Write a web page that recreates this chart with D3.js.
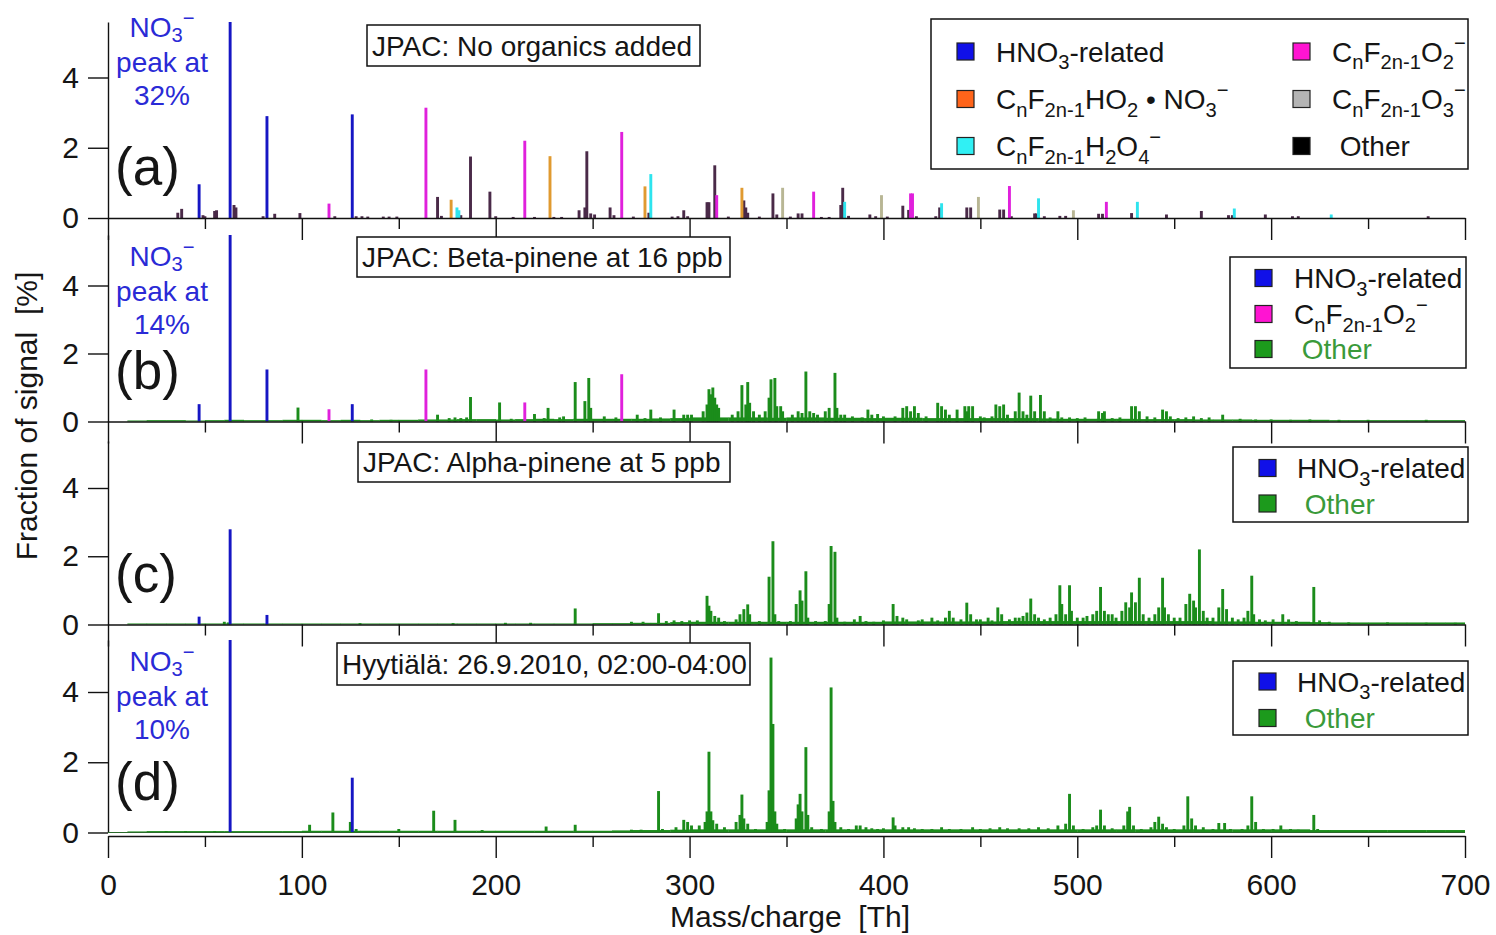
<!DOCTYPE html>
<html><head><meta charset="utf-8">
<script src="https://cdn.jsdelivr.net/npm/d3@7"></script>
<style>
body{margin:0;background:#fff}
svg text{font-family:"Liberation Sans",Arial,Helvetica,sans-serif;fill:#151515;white-space:pre}
</style></head><body>
<svg id="chart" width="1496" height="935"></svg>
<script>
// ---- Spectra: [mass (Th), fraction of signal (%)] ----
// (a) JPAC, no organics added
const hno3A   = [[47,0.96],[63,32],[82,2.9],[126,2.95]];
const fo2A    = [[114,0.41],[164,3.14],[215,2.2],[265,2.45],[314,0.65],[364,0.75],[414,0.7],[415,0.7],[465,0.91],[515,0.46]];
const fho2no3A= [[177,0.52],[228,1.76],[277,0.9],[327,0.86]];
const fh2o4A  = [[180,0.3],[181,0.22],[280,1.25],[380,0.46],[430,0.42],[480,0.56],[531,0.46],[581,0.27],[631,0.1]];
const fo3A    = [[348,0.86],[399,0.65],[449,0.6],[498,0.22]];
const otherA  = [[36,0.15],[38,0.26],[49,0.08],[50,0.05],[55,0.2],[56,0.22],[65,0.37],[66,0.3],[80,0.05],[86,0.12],[99,0.14],
  [117,0.05],[128,0.05],[131,0.05],[134,0.04],[142,0.04],[145,0.04],[149,0.04],[170,0.6],[172,0.06],[182,0.08],[187,1.75],
  [197,0.75],[200,0.05],[209,0.03],[220,0.03],[230,0.03],[234,0.03],[243,0.22],[246,0.3],[247,1.9],[249,0.13],[251,0.1],
  [259,0.3],[261,0.08],[271,0.04],[279,0.15],[291,0.04],[294,0.05],[297,0.22],[299,0.05],[309,0.45],[310,0.45],[313,1.5],
  [320,0.04],[328,0.5],[329,0.3],[330,0.15],[336,0.04],[343,0.7],[345,0.1],[352,0.04],[356,0.13],[358,0.13],[368,0.03],
  [372,0.03],[378,0.37],[379,0.86],[382,0.06],[393,0.1],[396,0.05],[402,0.04],[410,0.35],[413,0.23],[417,0.05],[427,0.05],
  [429,0.3],[443,0.3],[445,0.3],[460,0.24],[462,0.24],[466,0.05],[478,0.13],[479,0.13],[483,0.05],[491,0.06],[494,0.06],
  [511,0.12],[513,0.12],[528,0.14],[546,0.1],[564,0.2],[578,0.08],[580,0.08],[597,0.1],[611,0.05],[614,0.05],[681,0.05]];

// (b) JPAC, beta-pinene at 16 ppb
const hno3B  = [[47,0.51],[63,14],[82,1.53],[126,0.51]];
const fo2B   = [[114,0.36],[164,1.53],[215,0.56],[265,1.39]];
const otherB = [[98,0.41],[136,0.06],[146,0.05],[170,0.2],[176,0.1],[179,0.12],[182,0.1],[185,0.12],[187,0.72],[202,0.56],
  [208,0.08],[220,0.22],[225,0.1],[227,0.4],[233,0.12],[235,0.15],[241,1.16],[246,0.6],[248,1.28],[249,0.4],[256,0.15],
  [262,0.12],[273,0.2],[277,0.1],[280,0.35],[285,0.12],[292,0.35],[297,0.2],[299,0.2],[301,0.2],[307,0.3],[309,0.5],
  [310,0.95],[311,0.8],[312,1.0],[313,0.7],[314,0.5],[315,0.4],[322,0.2],[325,0.3],[327,1.07],[329,0.5],[330,1.16],
  [331,0.55],[333,0.3],[336,0.2],[339,0.3],[341,0.7],[342,1.24],[344,1.28],[345,0.45],[347,0.45],[348,0.3],[353,0.2],
  [356,0.3],[358,0.25],[360,1.47],[362,0.3],[364,0.25],[366,0.2],[370,0.3],[372,0.4],[375,1.43],[376,0.4],[378,0.2],
  [380,0.2],[384,0.15],[389,0.12],[392,0.35],[394,0.2],[397,0.22],[400,0.15],[406,0.15],[410,0.4],[412,0.45],[414,0.3],
  [416,0.45],[418,0.25],[422,0.15],[428,0.55],[430,0.45],[432,0.35],[434,0.2],[438,0.35],[442,0.45],[443,0.3],[444,0.45],
  [446,0.45],[450,0.15],[452,0.12],[456,0.15],[458,0.5],[460,0.45],[462,0.5],[464,0.2],[468,0.3],[470,0.85],[472,0.3],
  [474,0.2],[476,0.76],[478,0.3],[481,0.78],[483,0.3],[486,0.12],[490,0.3],[492,0.12],[496,0.12],[500,0.1],[504,0.12],
  [511,0.3],[513,0.25],[514,0.3],[518,0.1],[522,0.12],[528,0.45],[530,0.45],[532,0.3],[536,0.15],[540,0.12],[544,0.35],
  [546,0.3],[548,0.15],[552,0.1],[556,0.12],[560,0.15],[564,0.1],[568,0.12],[575,0.2],[584,0.08],[592,0.06],[600,0.06],
  [610,0.05],[620,0.06],[635,0.05],[650,0.05],[680,0.05]];

// (c) JPAC, alpha-pinene at 5 ppb
const hno3C  = [[47,0.23],[63,2.79],[82,0.28]];
const otherC = [[60,0.08],[62,0.06],[130,0.04],[178,0.04],[205,0.05],[218,0.05],[241,0.47],[270,0.08],[276,0.08],[284,0.33],
  [288,0.1],[292,0.12],[296,0.1],[300,0.12],[304,0.12],[309,0.84],[310,0.55],[311,0.4],[313,0.25],[315,0.2],[318,0.1],
  [324,0.15],[326,0.3],[328,0.45],[330,0.59],[331,0.3],[336,0.1],[341,1.4],[343,2.44],[344,0.3],[346,0.1],[352,0.1],
  [355,0.6],[357,1.0],[358,0.7],[360,1.56],[361,0.2],[365,0.1],[370,0.1],[372,0.6],[373,2.3],[375,2.13],[376,0.2],
  [380,0.08],[385,0.15],[388,0.25],[391,0.1],[395,0.08],[400,0.12],[405,0.6],[407,0.25],[410,0.2],[412,0.15],[418,0.12],
  [420,0.15],[425,0.2],[428,0.12],[432,0.2],[434,0.4],[436,0.2],[440,0.15],[443,0.64],[445,0.3],[448,0.15],[450,0.15],
  [454,0.2],[456,0.12],[459,0.5],[461,0.3],[465,0.15],[468,0.2],[470,0.2],[472,0.25],[474,0.35],[476,0.76],[478,0.3],
  [480,0.2],[483,0.15],[486,0.2],[489,0.3],[491,1.15],[492,0.6],[494,0.3],[496,1.15],[497,0.4],[500,0.2],[503,0.2],
  [505,0.25],[508,0.3],[510,0.4],[512,1.1],[514,0.4],[516,0.3],[518,0.3],[520,0.2],[523,0.4],[525,0.65],[527,0.5],
  [528,0.94],[530,0.65],[532,1.37],[534,0.3],[537,0.2],[540,0.3],[542,0.5],[544,1.37],[545,0.5],[547,0.3],[550,0.2],
  [553,0.2],[556,0.6],[558,0.9],[560,0.7],[561,0.5],[563,2.2],[565,0.4],[567,0.2],[570,0.2],[573,0.5],[575,1.04],
  [577,0.45],[580,0.2],[583,0.15],[586,0.2],[588,0.4],[590,1.43],[591,0.3],[594,0.15],[597,0.12],[601,0.15],[606,0.3],
  [609,0.15],[613,0.1],[622,1.1],[625,0.12],[630,0.08],[640,0.06],[660,0.06],[680,0.05],[695,0.05]];

// (d) Hyytiälä ambient, night of 26.9.2010
const hno3D  = [[63,10],[126,1.56]];
const otherD = [[30,0.04],[40,0.04],[55,0.04],[104,0.22],[116,0.57],[125,0.3],[128,0.1],[150,0.1],[168,0.62],[179,0.36],
  [193,0.07],[226,0.17],[241,0.22],[270,0.08],[275,0.08],[284,1.18],[286,0.1],[293,0.15],[297,0.36],[299,0.3],[301,0.2],
  [305,0.2],[308,0.3],[309,0.6],[310,2.3],[311,0.6],[312,0.35],[314,0.25],[318,0.15],[324,0.3],[326,0.5],[327,1.08],
  [328,0.4],[330,0.25],[334,0.1],[340,0.3],[341,1.2],[342,4.98],[343,3.09],[344,0.6],[345,0.25],[349,0.1],[355,0.4],
  [356,0.8],[357,1.1],[358,0.6],[360,2.43],[361,0.5],[363,0.15],[368,0.1],[372,0.6],[373,4.13],[374,0.9],[375,0.3],
  [378,0.15],[382,0.1],[386,0.2],[388,0.2],[391,0.15],[394,0.12],[397,0.1],[400,0.12],[405,0.43],[406,0.2],[410,0.15],
  [413,0.15],[416,0.12],[420,0.1],[425,0.1],[430,0.15],[434,0.1],[440,0.1],[446,0.15],[450,0.1],[455,0.12],[460,0.15],
  [464,0.12],[470,0.12],[475,0.12],[480,0.15],[485,0.12],[490,0.2],[494,0.25],[496,1.1],[498,0.2],[503,0.1],[508,0.15],
  [510,0.2],[512,0.65],[514,0.2],[518,0.12],[524,0.2],[526,0.6],[527,0.73],[529,0.2],[533,0.1],[538,0.15],[540,0.3],
  [542,0.45],[544,0.25],[546,0.15],[550,0.1],[555,0.2],[557,1.03],[559,0.4],[561,0.2],[565,0.15],[570,0.1],[573,0.27],
  [576,0.27],[579,0.1],[585,0.1],[588,0.2],[590,1.03],[592,0.3],[596,0.1],[601,0.1],[605,0.2],[610,0.1],[614,0.08],
  [622,0.5],[624,0.1],[630,0.06]];

// Unresolved background level of the "Other" signal, one value per 10-Th bin (0-10, 10-20, ... 690-700)
const floorB = [0,0.03,0.04,0.04,0.03,0.04,0.05,0.04,0.04,0.05, 0.05,0.04,0.05,0.04,0.05,0.05,0.06,0.06,0.07,0.07,
  0.06,0.07,0.08,0.07,0.08,0.08,0.08,0.08,0.09,0.10, 0.12,0.12,0.12,0.12,0.11,0.12,0.12,0.11,0.11,0.10,
  0.11,0.11,0.10,0.10,0.10,0.10,0.10,0.10,0.09,0.08, 0.08,0.08,0.08,0.07,0.07,0.07,0.06,0.06,0.06,0.05,
  0.05,0.05,0.05,0.04,0.04,0.04,0.04,0.04,0.04,0.04];
const floorC = [0,0.03,0.03,0.03,0.03,0.03,0.03,0.03,0.03,0.03, 0.03,0.03,0.03,0.03,0.03,0.03,0.03,0.03,0.03,0.03,
  0.03,0.03,0.03,0.03,0.03,0.04,0.04,0.05,0.05,0.07, 0.08,0.08,0.08,0.08,0.08,0.08,0.08,0.08,0.08,0.08,
  0.09,0.09,0.09,0.09,0.09,0.09,0.10,0.10,0.10,0.10, 0.10,0.10,0.10,0.10,0.10,0.10,0.10,0.09,0.09,0.08,
  0.08,0.08,0.07,0.06,0.06,0.06,0.06,0.06,0.06,0.06];
const floorD = [0,0.03,0.04,0.04,0.04,0.04,0.04,0.04,0.04,0.04, 0.05,0.05,0.05,0.05,0.05,0.05,0.05,0.05,0.05,0.05,
  0.05,0.05,0.05,0.05,0.05,0.05,0.06,0.07,0.07,0.08, 0.09,0.09,0.09,0.09,0.09,0.09,0.09,0.09,0.09,0.09,
  0.09,0.09,0.09,0.09,0.09,0.09,0.09,0.09,0.09,0.09, 0.09,0.09,0.09,0.09,0.09,0.09,0.09,0.09,0.09,0.09,
  0.09,0.09,0.07,0.07,0.07,0.07,0.07,0.07,0.07,0.07];

// Axis ticks and annotation text
const xMajorTicks = [0,100,200,300,400,500,600,700];
const xMinorTicks = [50,150,250,350,450,550,650];
const yTicks = [0,2,4];
const panelLetters = ["(a)","(b)","(c)","(d)"];
const panelNotes = ["JPAC: No organics added","JPAC: Beta-pinene at 16 ppb","JPAC: Alpha-pinene at 5 ppb","Hyytiälä: 26.9.2010, 02:00-04:00"];
const no3Peaks = ["32%","14%",null,"10%"];

// ---- Colours ----
const C = {
  hno3:"#1616c4", hno3Key:"#1010e8",
  fo2:"#e020dc", fo2Key:"#ff14d2",
  fho2no3:"#e09a30", fho2no3Key:"#ff641a",
  fh2o4:"#2ee4ee", fh2o4Key:"#30f0f4",
  fo3:"#b8b694", fo3Key:"#b4b4b4",
  otherA:"#4a2a48", otherKey:"#000000",
  green:"#1b8c1b", greenKey:"#1c9a1c", greenText:"#3a9a3a",
  note:"#2a2ad6"
};

// ---- Layout ----
const svg = d3.select("#chart");
const x = d3.scaleLinear().domain([0,700]).range([108,1465]);
const FONT = 28;

const panels = [
  {zero:218,   y4:77.5, top:22,  axisY:218,
   series:[[otherA,C.otherA],[hno3A,C.hno3],[fo2A,C.fo2],[fho2no3A,C.fho2no3],[fh2o4A,C.fh2o4],[fo3A,C.fo3]], floor:null,
   box:[367,25,700,66], noteY:39},
  {zero:421.5, y4:285.5, top:235, axisY:421.5,
   series:[[otherB,C.green],[hno3B,C.hno3],[fo2B,C.fo2]], floor:floorB,
   box:[357,237,730,277], noteY:268},
  {zero:624.5, y4:488, top:441, axisY:624.5,
   series:[[otherC,C.green],[hno3C,C.hno3]], floor:floorC,
   box:[358,442,730,482], noteY:null},
  {zero:832.5, y4:692, top:640, axisY:836,
   series:[[otherD,C.green],[hno3D,C.hno3]], floor:floorD,
   box:[337,643,750,685], noteY:673}
];

// Rich text with sub/superscripts: parts = [[text, ""|"sub"|"sup"], ...]
function rich(sel, parts, size, subShift = 0.27){
  let off = 0;
  parts.forEach(([t,k]) => {
    const target = k === "sub" ? subShift*size : k === "sup" ? -0.42*size : 0;
    const ts = sel.append("tspan").text(t).attr("dy", target - off);
    if (k) ts.attr("font-size", 0.72*size);
    off = target;
  });
}

const defs = svg.append("defs");
const halfBar = 0.75; // bar half-width in Th

panels.forEach((p, i) => {
  const ymax = 4*(p.zero - p.top)/(p.zero - p.y4);
  const y = d3.scaleLinear().domain([0, ymax]).range([p.zero, p.top]);
  const g = svg.append("g");

  defs.append("clipPath").attr("id","clip"+i)
    .append("rect").attr("x",x(0)).attr("y",p.top).attr("width",x(700)-x(0)).attr("height",p.zero-p.top+0.5);
  const plot = g.append("g").attr("clip-path","url(#clip"+i+")");

  // background floor of unresolved signal
  if (p.floor) {
    plot.append("g").selectAll("rect").data(p.floor.map((v,k)=>[k*10,v])).join("rect")
      .attr("x", d => x(d[0])).attr("width", d => x(d[0]+10)-x(d[0])+0.3)
      .attr("y", d => y(d[1])).attr("height", d => p.zero - y(d[1]))
      .attr("fill", C.green);
  }
  // peaks
  p.series.forEach(([data,color]) => {
    plot.append("g").selectAll("rect").data(data).join("rect")
      .attr("x", d => x(d[0]-halfBar))
      .attr("width", d => x(d[0]+halfBar)-x(d[0]-halfBar))
      .attr("y", d => y(d[1]))
      .attr("height", d => p.zero - y(d[1]))
      .attr("fill", color);
  });

  // left axis
  const ya = g.append("g").attr("transform",`translate(${x(0)},0)`)
    .call(d3.axisLeft(y).tickValues(yTicks).tickSize(20).tickSizeOuter(0).tickPadding(9).tickFormat(d3.format("d")));
  ya.selectAll("text").attr("font-size",30).attr("font-family",null);
  ya.selectAll("path,line").attr("stroke","#111").attr("stroke-width",1.4);

  // bottom axis (major + minor ticks)
  const last = i === panels.length-1;
  const xa = g.append("g").attr("transform",`translate(0,${p.axisY})`)
    .call(d3.axisBottom(x).tickValues(xMajorTicks).tickSize(22).tickSizeOuter(0).tickPadding(16)
      .tickFormat(last ? d3.format("d") : ""));
  xa.selectAll("text").attr("font-size",30).attr("font-family",null);
  xa.selectAll("path,line").attr("stroke","#111").attr("stroke-width",1.4);
  const xm = g.append("g").attr("transform",`translate(0,${p.axisY})`)
    .call(d3.axisBottom(x).tickValues(xMinorTicks).tickSize(11).tickFormat(""));
  xm.select(".domain").remove();
  xm.selectAll("line").attr("stroke","#111").attr("stroke-width",1.4);
  if (last) {
    g.append("line").attr("x1",x(0)).attr("x2",x(700)).attr("y1",p.zero).attr("y2",p.zero)
      .attr("stroke","#2a6a2a").attr("stroke-width",1.2);
  }

  // panel letter
  g.append("text").attr("x",115).attr("y",p.zero-33).attr("font-size",53).text(panelLetters[i]);

  // condition box
  const [bx0,by0,bx1,by1] = p.box;
  g.append("rect").attr("x",bx0).attr("y",by0).attr("width",bx1-bx0).attr("height",by1-by0)
    .attr("fill","#fff").attr("stroke","#111").attr("stroke-width",1.5);
  g.append("text").attr("x",bx0+5).attr("y",(by0+by1)/2+10).attr("font-size",FONT).text(panelNotes[i]);

  // NO3- peak annotation
  if (no3Peaks[i]) {
    const nt = g.append("g").attr("text-anchor","middle");
    const t1 = nt.append("text").attr("x",162).attr("y",p.noteY-2).attr("font-size",FONT).style("fill",C.note);
    rich(t1, [["NO",""],["3","sub"],["−","sup"]], FONT, 0.18);
    nt.append("text").attr("x",162).attr("y",p.noteY+33).attr("font-size",FONT).style("fill",C.note).text("peak at");
    nt.append("text").attr("x",162).attr("y",p.noteY+66).attr("font-size",FONT).style("fill",C.note).text(no3Peaks[i]);
  }
});

// ---- Legends ----
const HNO3 = [["HNO",""],["3","sub"],["-related",""]];
const FO2  = [["C",""],["n","sub"],["F",""],["2n-1","sub"],["O",""],["2","sub"],["−","sup"]];
const FO3  = [["C",""],["n","sub"],["F",""],["2n-1","sub"],["O",""],["3","sub"],["−","sup"]];
const FHO2NO3 = [["C",""],["n","sub"],["F",""],["2n-1","sub"],["HO",""],["2","sub"],[" • NO",""],["3","sub"],["−","sup"]];
const FH2O4 = [["C",""],["n","sub"],["F",""],["2n-1","sub"],["H",""],["2","sub"],["O",""],["4","sub"],["−","sup"]];
const OTHER = [[" Other",""]];

function legend(box, items){
  const [x0,y0,x1,y1] = box;
  const g = svg.append("g");
  g.append("rect").attr("x",x0).attr("y",y0).attr("width",x1-x0).attr("height",y1-y0)
    .attr("fill","#fff").attr("stroke","#111").attr("stroke-width",1.5);
  items.forEach(it => {
    g.append("rect").attr("x",it.sx).attr("y",it.cy-8.5).attr("width",17).attr("height",17)
      .attr("fill",it.color).attr("stroke","#222").attr("stroke-width",1.2);
    const t = g.append("text").attr("x",it.tx).attr("y",it.cy+10).attr("font-size",FONT);
    if (it.textColor) t.style("fill",it.textColor);
    rich(t, it.parts, FONT);
  });
}

legend([931,19,1468,169], [
  {sx:957, tx:996, cy:51.5, color:C.hno3Key, parts:HNO3},
  {sx:957, tx:996, cy:99, color:C.fho2no3Key, parts:FHO2NO3},
  {sx:957, tx:996, cy:146, color:C.fh2o4Key, parts:FH2O4},
  {sx:1293, tx:1332, cy:51.5, color:C.fo2Key, parts:FO2},
  {sx:1293, tx:1332, cy:99, color:C.fo3Key, parts:FO3},
  {sx:1293, tx:1332, cy:146, color:C.otherKey, parts:OTHER}
]);
legend([1230,257,1466,368], [
  {sx:1255, tx:1294, cy:278, color:C.hno3Key, parts:HNO3},
  {sx:1255, tx:1294, cy:314, color:C.fo2Key, parts:FO2},
  {sx:1255, tx:1294, cy:349, color:C.greenKey, parts:OTHER, textColor:C.greenText}
]);
legend([1233,447,1468,522], [
  {sx:1259, tx:1297, cy:468, color:C.hno3Key, parts:HNO3},
  {sx:1259, tx:1297, cy:503.5, color:C.greenKey, parts:OTHER, textColor:C.greenText}
]);
legend([1233,661,1468,735], [
  {sx:1259, tx:1297, cy:681.5, color:C.hno3Key, parts:HNO3},
  {sx:1259, tx:1297, cy:718, color:C.greenKey, parts:OTHER, textColor:C.greenText}
]);

// ---- Axis titles ----
svg.append("text").attr("x",790).attr("y",927).attr("text-anchor","middle").attr("font-size",30)
  .text("Mass/charge  [Th]");
svg.append("text").attr("transform","translate(37,416) rotate(-90)").attr("text-anchor","middle").attr("font-size",30)
  .text("Fraction of signal  [%]");
</script>
</body></html>
